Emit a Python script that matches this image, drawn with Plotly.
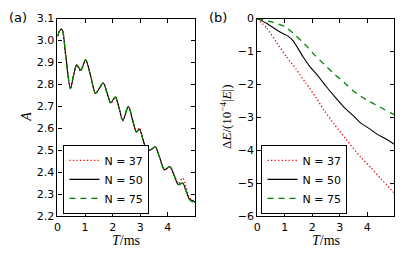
import plotly.graph_objects as go

# ---------------- data ----------------
# panel (a): amplitude A vs time T (ms)
T_a = [0, 0.08, 0.16, 0.3, 0.47, 0.58, 0.70, 0.84, 1.02, 1.2, 1.38, 1.5, 1.66, 1.8,
       1.93, 2.1, 2.22, 2.37, 2.57, 2.72, 2.86, 2.97, 3.1, 3.25, 3.4, 3.54, 3.7,
       3.88, 4.07, 4.22, 4.38, 4.54, 4.65, 4.78, 4.9, 4.99]
A_N50 = [3.02, 3.045, 3.052, 2.93, 2.782, 2.84, 2.89, 2.866, 2.912, 2.84, 2.76, 2.78,
         2.807, 2.76, 2.718, 2.743, 2.70, 2.638, 2.70, 2.64, 2.585, 2.597, 2.55, 2.50,
         2.505, 2.517, 2.47, 2.413, 2.427, 2.39, 2.345, 2.352, 2.32, 2.28, 2.272, 2.265]
A_N37 = [3.02, 3.045, 3.052, 2.93, 2.782, 2.84, 2.887, 2.86, 2.912, 2.84, 2.757, 2.78,
         2.807, 2.76, 2.714, 2.743, 2.70, 2.635, 2.70, 2.64, 2.585, 2.603, 2.55, 2.50,
         2.505, 2.517, 2.47, 2.41, 2.427, 2.39, 2.35, 2.375, 2.34, 2.285, 2.275, 2.268]
A_N75 = [3.02, 3.045, 3.052, 2.93, 2.782, 2.84, 2.89, 2.866, 2.912, 2.84, 2.76, 2.78,
         2.807, 2.76, 2.718, 2.743, 2.70, 2.638, 2.70, 2.64, 2.585, 2.597, 2.55, 2.50,
         2.505, 2.517, 2.47, 2.413, 2.427, 2.39, 2.345, 2.352, 2.32, 2.278, 2.265, 2.252]

# panel (b): energy deviation dE / (1e-4 |E|) vs T (ms)
T_b37 = [0, 0.35, 0.7, 1.06, 1.42, 1.78, 2.14, 2.44, 2.8, 3.22, 3.77, 4.13, 4.5, 4.99]
dE_N37 = [0, -0.29, -0.72, -1.15, -1.54, -1.97, -2.40, -2.79, -3.2, -3.65, -4.21,
          -4.52, -4.86, -5.3]
T_b50 = [0, 0.34, 0.7, 0.88, 1.12, 1.3, 1.42, 1.66, 1.9, 2.2, 2.5, 2.8, 3.16, 3.5,
         3.77, 4.1, 4.37, 4.7, 4.99]
dE_N50 = [0, -0.14, -0.34, -0.43, -0.53, -0.67, -0.82, -1.15, -1.44, -1.73, -2.05,
          -2.35, -2.69, -2.95, -3.17, -3.35, -3.51, -3.66, -3.81]
T_b75 = [0, 0.52, 1.0, 1.42, 1.78, 2.08, 2.44, 2.8, 3.16, 3.52, 3.95, 4.37, 4.85, 4.99]
dE_N75 = [0, -0.1, -0.24, -0.53, -0.82, -1.1, -1.39, -1.68, -1.94, -2.21, -2.45,
          -2.64, -2.86, -2.91]

labels = ["N = 37", "N = 50", "N = 75"]
x_ticks = [0, 1, 2, 3, 4]
a_ticks = [2.2, 2.3, 2.4, 2.5, 2.6, 2.7, 2.8, 2.9, 3.0, 3.1]
a_ticktext = ["2.2", "2.3", "2.4", "2.5", "2.6", "2.7", "2.8", "2.9", "3.0", "3.1"]
b_ticks = [0, -1, -2, -3, -4, -5, -6]
b_ticktext = ["0", "\u22121", "\u22122", "\u22123", "\u22124", "\u22125", "\u22126"]

# ---------------- figure ----------------
RED, BLACK, GREEN = "#ff0000", "#000000", "#008000"
styles = [
    dict(color=RED, width=1.3, dash="1.3px,2.2px"),
    dict(color=BLACK, width=1.1),
    dict(color=GREEN, width=1.3, dash="6px,5px"),
]

fig = go.Figure()
for A, lab, st in zip([A_N37, A_N50, A_N75], labels, styles):
    fig.add_trace(go.Scatter(x=T_a, y=A, mode="lines", name=lab,
                             line=dict(shape="spline", smoothing=0.9, **st),
                             xaxis="x", yaxis="y", legend="legend"))
for T, dE, lab, st in zip([T_b37, T_b50, T_b75], [dE_N37, dE_N50, dE_N75], labels, styles):
    fig.add_trace(go.Scatter(x=T, y=dE, mode="lines", name=lab,
                             line=dict(shape="spline", smoothing=0.6, **st),
                             xaxis="x2", yaxis="y2", legend="legend2"))

W, H = 415, 257
ydom = [(257 - 221.7) / H, (257 - 13.3) / H]
axis_common = dict(showline=True, linecolor="black", linewidth=1.2, mirror="ticks",
                   ticks="inside", ticklen=4, tickwidth=1, tickcolor="black",
                   showgrid=False, zeroline=False,
                   tickfont=dict(family="DejaVu Sans", size=11, color="black"))

fig.update_layout(
    width=W, height=H,
    margin=dict(l=0, r=0, t=0, b=0),
    paper_bgcolor="white", plot_bgcolor="white",
    xaxis=dict(domain=[54 / W, 193 / W], range=[0, 4.99], tickvals=x_ticks,
               anchor="y", **axis_common),
    yaxis=dict(domain=ydom, range=[2.2, 3.1], tickvals=a_ticks, ticktext=a_ticktext,
               anchor="x", **axis_common),
    xaxis2=dict(domain=[255.7 / W, 394.3 / W], range=[0, 4.99], tickvals=x_ticks,
                anchor="y2", **axis_common),
    yaxis2=dict(domain=ydom, range=[-6, 0], tickvals=b_ticks, ticktext=b_ticktext,
                anchor="x2", **axis_common),
    legend=dict(x=60 / W, y=(257 - 219) / H, xanchor="left", yanchor="bottom",
                bgcolor="white", bordercolor="black", borderwidth=1,
                font=dict(family="DejaVu Sans", size=11, color="black"),
                itemwidth=30, tracegroupgap=0),
    legend2=dict(x=260 / W, y=(257 - 219) / H, xanchor="left", yanchor="bottom",
                 bgcolor="white", bordercolor="black", borderwidth=1,
                 font=dict(family="DejaVu Sans", size=11, color="black"),
                 itemwidth=30, tracegroupgap=0),
    showlegend=True,
)

serif = dict(family="Liberation Serif", size=14, color="black")
ann = [
    dict(text="(a)", x=14 / W, y=(257 - 12) / H, font=dict(family="DejaVu Sans", size=13, color="black")),
    dict(text="(b)", x=216 / W, y=(257 - 12) / H, font=dict(family="DejaVu Sans", size=13, color="black")),
    dict(text="<i>A</i>", x=22 / W, y=(257 - 117) / H, textangle=-90, font=serif),
    dict(text="\u0394<i>E</i>/(10<sup>\u22124</sup>|<i>E</i>|)", x=224 / W, y=(257 - 117) / H,
         textangle=-90, font=dict(family="Liberation Serif", size=13, color="black")),
    dict(text="<i>T</i>/ms", x=123 / W, y=(257 - 247) / H, font=serif),
    dict(text="<i>T</i>/ms", x=325 / W, y=(257 - 247) / H, font=serif),
]
for a in ann:
    fig.add_annotation(xref="paper", yref="paper", showarrow=False,
                       xanchor="center", yanchor="middle", **a)

fig.write_html("out.html", config={"displayModeBar": False},
               post_script="document.body.style.margin='0';document.body.style.overflow='hidden';")
